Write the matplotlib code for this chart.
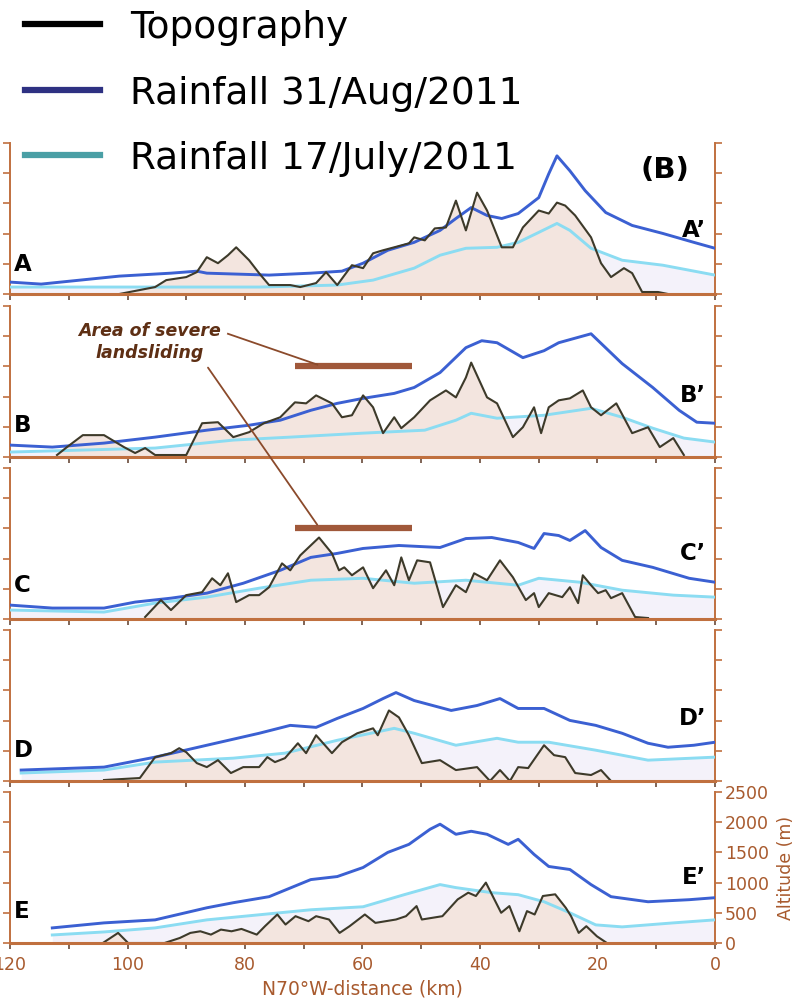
import matplotlib.pyplot as plt
from matplotlib.lines import Line2D
from matplotlib.patches import ConnectionPatch
from matplotlib.ticker import MultipleLocator

plt.rcParams['font.family'] = ['DejaVu Sans']

# ---- profile A ----
a_topo_km = [101.4, 95.3, 93.4, 90.0, 88.2, 86.5, 84.6, 82.9, 81.5, 79.3, 77.6, 75.9, 72.3, 70.6, 67.9, 66.2,
             64.3, 61.8, 59.9, 58.2, 56.5, 54.6, 52.1, 51.2, 49.4, 47.7, 45.8, 44.1, 42.4, 40.5, 38.8, 36.3,
             34.4, 32.7, 30.0, 28.3, 26.9, 25.5, 23.8, 21.1, 19.4, 17.7, 15.5, 14.1, 12.4, 9.7, 8.0]
a_topo = [0, 115, 230, 280, 362, 609, 510, 642, 773, 559, 345, 148, 148, 115, 181, 362,
          148, 477, 428, 674, 724, 773, 839, 938, 888, 1086, 1102, 1546, 1053, 1678, 1382, 773,
          773, 1102, 1382, 1332, 1513, 1464, 1300, 938, 510, 280, 428, 345, 33, 33, 0]
a_aug_km = [120, 114.7, 101.4, 92.6, 88.2, 86.5, 75.9, 68.8, 63.5, 59.9, 55.7, 51.2, 46.8, 44.1,
            41.5, 38.8, 36.3, 33.5, 30.0, 28.3, 26.9, 24.7, 22.1, 18.6, 14.1, 8.9, 3.6, 0]
a_aug = [197, 164, 296, 345, 378, 345, 313, 345, 378, 510, 724, 855, 1053, 1250,
         1431, 1300, 1250, 1332, 1596, 1990, 2287, 2040, 1711, 1349, 1135, 1003, 855, 757]
a_jul_km = [120, 77.6, 64.3, 58.2, 51.2, 46.8, 42.4, 37.1, 33.5, 30.0, 26.9, 24.7, 21.1, 15.8, 8.9, 0]
a_jul = [115, 115, 148, 230, 428, 642, 757, 773, 855, 1020, 1168, 1053, 757, 559, 477, 313]

# ---- profile B ----
b_topo_km = [112.0, 110.3, 107.6, 104.0, 100.6, 98.7, 97.0, 95.3, 90.0, 87.3, 84.6, 82.0, 79.3, 76.8,
             74.0, 71.5, 69.6, 67.9, 65.2, 63.5, 61.8, 59.9, 58.2, 56.5, 54.6, 53.4, 51.2, 48.5, 45.8,
             44.1, 42.4, 41.5, 38.8, 37.1, 34.4, 32.7, 30.8, 29.6, 28.3, 26.6, 24.7, 22.5, 21.1, 19.4,
             16.8, 14.1, 11.4, 9.4, 7.1, 5.3]
b_topo = [33, 164, 362, 362, 164, 66, 148, 33, 33, 559, 576, 329, 411, 559,
          658, 905, 888, 1020, 888, 658, 691, 1020, 823, 395, 658, 477, 658, 938, 1102,
          987, 1316, 1563, 987, 888, 329, 493, 823, 395, 823, 938, 971, 1102, 823, 691,
          888, 395, 493, 164, 313, 33]
b_aug_km = [120, 112.8, 104.0, 95.3, 86.5, 79.3, 74.0, 68.8, 64.3, 59.9, 54.6, 51.2, 46.8, 42.4,
            39.7, 37.1, 32.7, 29.1, 26.6, 21.1, 15.8, 10.6, 6.1, 3.1, 0]
b_aug = [197, 164, 230, 329, 444, 526, 609, 773, 888, 971, 1053, 1151, 1398, 1810,
         1925, 1892, 1645, 1760, 1892, 2040, 1546, 1151, 773, 576, 559]
b_jul_km = [120, 95.3, 82.0, 72.3, 59.9, 49.4, 44.1, 41.5, 37.1, 29.1, 21.1, 15.8, 10.6, 5.3, 0]
b_jul = [82, 148, 280, 329, 395, 444, 609, 724, 642, 691, 806, 658, 477, 313, 247]

# ---- profile C ----
c_topo_km = [97.0, 94.3, 92.6, 90.0, 87.3, 85.6, 84.2, 82.9, 81.5, 79.3, 77.6, 75.9, 73.7, 72.3, 70.6,
             67.4, 65.2, 64.0, 63.1, 61.8, 59.9, 58.2, 56.0, 54.6, 53.4, 52.1, 50.7, 48.5, 46.3, 44.1,
             42.4, 41.0, 38.8, 36.6, 34.4, 32.2, 30.8, 30.0, 28.3, 26.0, 24.7, 23.3, 22.5, 21.1, 19.9,
             18.6, 17.7, 15.8, 13.6, 11.4]
c_topo = [33, 313, 148, 395, 444, 674, 559, 757, 280, 395, 395, 526, 921, 806, 1053,
          1349, 1086, 806, 855, 724, 855, 510, 806, 559, 1020, 642, 971, 938, 197, 559,
          444, 757, 642, 971, 691, 313, 428, 197, 428, 362, 526, 263, 724, 559, 428,
          477, 345, 428, 33, 16]
c_aug_km = [120, 112.8, 104.0, 98.7, 92.6, 86.5, 80.3, 74.0, 68.8, 64.3, 59.9, 53.8, 46.8, 42.4,
            38.0, 33.5, 30.8, 29.1, 26.6, 24.7, 22.1, 19.4, 15.8, 10.6, 4.4, 0]
c_aug = [230, 181, 181, 280, 345, 428, 592, 806, 1020, 1086, 1168, 1217, 1184, 1332,
         1349, 1267, 1168, 1415, 1382, 1300, 1464, 1184, 971, 855, 674, 609]
c_jul_km = [120, 104.0, 95.3, 86.5, 77.6, 68.8, 59.9, 51.2, 42.4, 33.5, 30.0, 23.0, 15.8, 7.1, 0]
c_jul = [148, 115, 263, 362, 510, 642, 674, 592, 642, 559, 674, 609, 477, 395, 362]

# ---- profile D ----
d_topo_km = [104.0, 97.9, 95.3, 92.6, 91.2, 90.0, 88.2, 86.5, 84.6, 82.4, 80.3, 77.6, 76.2, 74.9,
             73.2, 71.0, 69.6, 67.9, 65.2, 63.5, 60.9, 58.2, 57.4, 55.5, 53.8, 52.1, 49.9, 46.8,
             44.1, 40.5, 38.3, 36.6, 34.9, 33.5, 31.8, 29.1, 27.4, 25.5, 23.8, 21.1, 19.4, 17.7]
d_topo = [16, 49, 395, 461, 543, 477, 296, 230, 345, 132, 230, 230, 395, 313,
          378, 625, 461, 757, 461, 642, 790, 872, 757, 1168, 1053, 757, 296, 345,
          181, 230, 0, 181, 0, 230, 214, 592, 428, 395, 132, 99, 181, 0]
d_aug_km = [118.1, 104.0, 95.3, 86.5, 77.6, 72.3, 67.9, 64.3, 59.9, 56.5, 54.3, 51.2, 44.9, 40.5,
            36.6, 33.5, 29.1, 24.7, 20.3, 15.8, 11.4, 8.0, 3.6, 0]
d_aug = [181, 230, 395, 592, 790, 921, 888, 1036, 1201, 1365, 1464, 1332, 1168, 1250,
         1365, 1201, 1201, 1003, 921, 790, 625, 559, 592, 642]
d_jul_km = [118.1, 104.0, 95.3, 82.0, 73.2, 64.3, 54.6, 51.2, 44.1, 37.1, 33.5, 28.3, 20.3, 11.4, 0]
d_jul = [132, 181, 313, 378, 461, 674, 872, 790, 592, 707, 642, 642, 510, 345, 395]

# ---- profile E ----
e_topo_km = [104.2, 101.6, 99.9, 93.7, 91.1, 89.3, 87.6, 85.8, 84.1, 82.3, 80.6, 78.0, 76.6, 74.5,
             73.1, 71.4, 69.2, 67.9, 65.7, 63.9, 62.2, 59.6, 57.8, 54.3, 52.6, 50.8, 49.9, 46.4,
             43.8, 42.0, 40.7, 39.0, 36.4, 35.0, 33.3, 32.0, 30.7, 29.3, 27.2, 25.4, 24.5, 23.2,
             21.9, 20.1, 18.4]
e_topo = [0, 167, 0, 0, 83, 167, 194, 139, 222, 194, 233, 139, 278, 472,
          306, 444, 361, 444, 389, 167, 278, 472, 333, 389, 444, 611, 389, 444,
          722, 833, 778, 1000, 500, 611, 194, 528, 472, 778, 806, 583, 444, 167,
          278, 111, 0]
e_aug_km = [112.8, 104.0, 95.3, 86.5, 82.0, 75.9, 68.8, 64.3, 59.9, 55.7, 52.1, 48.5, 46.8, 44.1,
            41.5, 38.8, 35.2, 33.5, 30.8, 28.3, 24.7, 21.1, 17.7, 11.4, 4.4, 0]
e_aug = [250, 333, 383, 583, 667, 767, 1050, 1100, 1250, 1500, 1633, 1883, 1967, 1800,
         1850, 1800, 1633, 1717, 1467, 1267, 1217, 967, 767, 683, 717, 750]
e_jul_km = [112.8, 104.0, 95.3, 86.5, 77.6, 68.8, 59.9, 52.9, 46.8, 44.1, 38.0, 33.5, 29.1, 24.7,
            20.3, 15.8, 7.1, 0]
e_jul = [133, 183, 250, 383, 467, 550, 600, 800, 967, 917, 833, 800, 683, 500, 300, 267, 333, 383]

# label positions (left letter height, right letter height)
profile_names = ['A', 'B', 'C', 'D', 'E']
left_label_y = [493, 526, 559, 510, 517]
right_label_y = [1053, 1020, 1086, 1036, 1083]

# landslide zone, km along profile, drawn on B and C
landslide_km = [71.5, 51.6]
landslide_level = 1500

legend_labels = ['Topography', 'Rainfall 31/Aug/2011', 'Rainfall 17/July/2011']
legend_colors = ['#000000', '#2e3182', '#4a9fa5']

BROWN = '#c0703f'
LABEL_BROWN = '#a85a2e'
BLUE = '#3b60d2'
CYAN = '#8bdcf2'
TOPO = '#3d3a2a'

profiles = [
    (a_topo_km, a_topo, a_aug_km, a_aug, a_jul_km, a_jul),
    (b_topo_km, b_topo, b_aug_km, b_aug, b_jul_km, b_jul),
    (c_topo_km, c_topo, c_aug_km, c_aug, c_jul_km, c_jul),
    (d_topo_km, d_topo, d_aug_km, d_aug, d_jul_km, d_jul),
    (e_topo_km, e_topo, e_aug_km, e_aug, e_jul_km, e_jul),
]

W, H = 812, 1001
fig = plt.figure(figsize=(W / 100, H / 100), dpi=100)

bottoms = [294, 457, 619, 781, 943]
axes = []
for i, (tk, tv, ak, av, jk, jv) in enumerate(profiles):
    ax = fig.add_axes([10 / W, 1 - bottoms[i] / H, 705 / W, 151 / H])
    axes.append(ax)

    ax.fill_between(jk, jv, color='#f4f2fa', lw=0, zorder=1)
    ax.fill_between(tk, tv, color='#f3e5df', lw=0, zorder=2)
    ax.plot(jk, jv, color=CYAN, lw=2.1, zorder=3)
    ax.plot(ak, av, color=BLUE, lw=2.1, zorder=4)
    ax.plot(tk, tv, color=TOPO, lw=1.5, zorder=5)

    ax.set_xlim(120, 0)
    ax.set_ylim(0, 2500)
    ax.xaxis.set_major_locator(MultipleLocator(20))
    ax.xaxis.set_minor_locator(MultipleLocator(10))
    ax.yaxis.set_major_locator(MultipleLocator(500))

    ax.spines['top'].set_visible(False)
    for side in ['left', 'right']:
        ax.spines[side].set_color(BROWN)
        ax.spines[side].set_linewidth(1.4)
    ax.spines['bottom'].set_color(BROWN)
    ax.spines['bottom'].set_linewidth(2.2)
    ax.spines['bottom'].set_zorder(6)

    last = i == len(profiles) - 1
    ax.tick_params(axis='y', which='both', left=True, right=True, direction='out', length=5,
                   width=1.2, color=BROWN, labelleft=False, labelright=last,
                   labelsize=12.5, labelcolor=LABEL_BROWN, pad=2)
    ax.tick_params(axis='x', which='both', direction='out', length=4, width=1.2,
                   color='#6a4a3a', labelbottom=last, labelsize=12.5,
                   labelcolor=LABEL_BROWN, pad=5)

    name = profile_names[i]
    ax.text(119.4, left_label_y[i], name, fontsize=16.5, fontweight='bold',
            ha='left', va='center', zorder=7)
    ax.text(1.5, right_label_y[i], name + '\u2019', fontsize=16.5, fontweight='bold',
            ha='right', va='center', zorder=7)

axE = axes[-1]
axE.yaxis.set_label_position('right')
axE.set_ylabel('Altitude (m)', color=LABEL_BROWN, fontsize=12.5, labelpad=6)
axE.set_xlabel('N70\u00b0W-distance (km)', color=LABEL_BROWN, fontsize=13.5, labelpad=4)

axes[0].text(8.5, 2056, '(B)', fontsize=21, fontweight='bold', ha='center', va='center')

# landslide bars
axB, axC = axes[1], axes[2]
for ax in (axB, axC):
    ax.plot(landslide_km, [landslide_level] * 2, color='#a0583a', lw=4.5,
            solid_capstyle='butt', zorder=8)

axB.text(96.2, 1908, 'Area of severe\nlandsliding', fontsize=12.5, fontweight='bold',
         style='italic', color='#5e2f14', ha='center', va='center', linespacing=1.25, zorder=9)
axB.plot([82.9, 67.7], [2040, 1530], color='#8b4a2b', lw=1.3, zorder=8)
con = ConnectionPatch(xyA=(86.3, 1480), coordsA=axB.transData,
                      xyB=(67.7, 1560), coordsB=axC.transData,
                      color='#8b4a2b', lw=1.3, zorder=8)
fig.add_artist(con)

# legend, drawn by hand at the top
for i, (lab, col) in enumerate(zip(legend_labels, legend_colors)):
    y = 24 + 65.5 * i
    fig.add_artist(Line2D([25 / W, 100 / W], [1 - y / H] * 2, color=col, lw=4.5,
                          transform=fig.transFigure))
    fig.text(130 / W, 1 - (y + 14) / H, lab, fontsize=27, va='baseline', ha='left')

fig.savefig('out.png', dpi=100)
